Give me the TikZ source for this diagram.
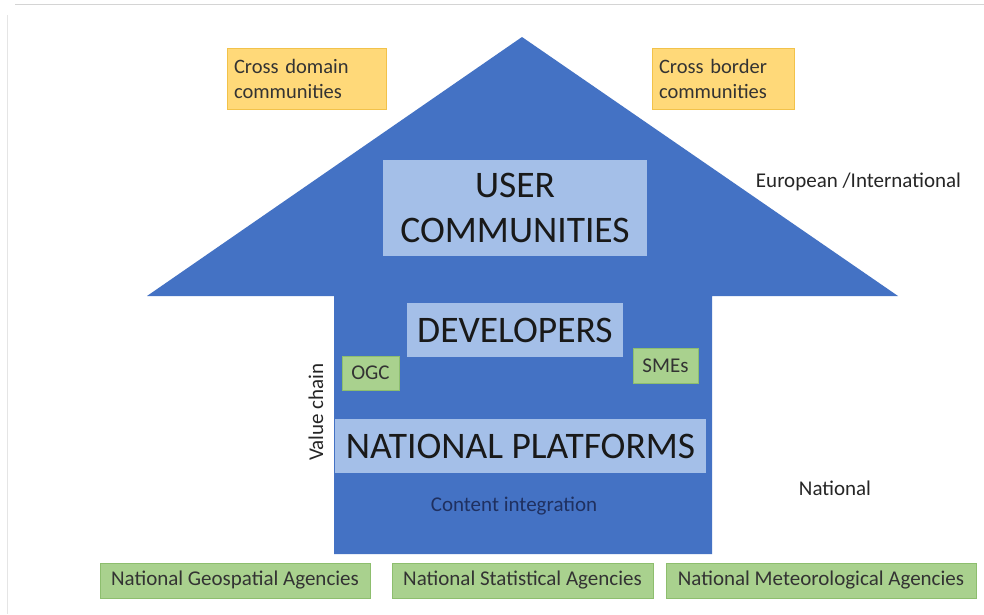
\documentclass[tikz,border=0pt]{standalone}
\usepackage{fontspec}
\setmainfont{Carlito}
\definecolor{arrowblue}{HTML}{4472C4}
\definecolor{paleblue}{HTML}{A4BFE8}
\definecolor{orangefill}{HTML}{FFD979}
\definecolor{orangeedge}{HTML}{F2C24A}
\definecolor{greenfill}{HTML}{A9D18E}
\definecolor{greenedge}{HTML}{8DBE6E}
\definecolor{navytext}{HTML}{1F3060}
\definecolor{edgegray}{HTML}{D4D4D4}
\begin{document}
\begin{tikzpicture}[x=1pt,y=-1pt,
  labelbox/.style={fill=paleblue,draw=none,inner sep=0pt,text=black!90},
  orangebox/.style={fill=orangefill,draw=orangeedge,line width=1pt,inner sep=0pt,align=left,text=black!80,font=\fontsize{20.5}{25}\selectfont},
  greenbox/.style={fill=greenfill,draw=greenedge,line width=1pt,inner sep=0pt,text=black!80,font=\fontsize{21}{24}\selectfont},
  plaintext/.style={inner sep=0pt,text=black!85,font=\fontsize{21}{24}\selectfont}]
\useasboundingbox (0,0) rectangle (984,614);
\fill[white] (0,0) rectangle (984,614);
% frame lines along the top and left edges
\draw[edgegray,line width=1pt] (15,4) -- (984,4);
\draw[edgegray!60,line width=1pt] (7,15) -- (7,614);
% the big upward arrow
\fill[arrowblue] (522,37) -- (898,296) -- (712,296) -- (712,554)
  -- (334,554) -- (334,296) -- (147,296) -- cycle;
% layers inside the arrow
\node[labelbox,minimum width=264pt,minimum height=96pt,align=center,
  font=\fontsize{37.5}{45}\selectfont] (user) at (515,208) {USER\\COMMUNITIES};
\node[labelbox,minimum width=216pt,minimum height=54pt,
  font=\fontsize{37.5}{42}\selectfont] (dev) at (515,330) {DEVELOPERS};
\node[labelbox,minimum width=371pt,minimum height=54pt,
  font=\fontsize{37.5}{42}\selectfont] (natplat) at (520.5,446) {NATIONAL PLATFORMS};
\node[greenbox,minimum width=57pt,minimum height=34pt] (ogc) at (370.5,373) {OGC};
\node[greenbox,minimum width=65pt,minimum height=35pt] (smes) at (665.5,365.5) {SMEs};
\node[plaintext,text=navytext] (content) at (514,506) {Content integration};
% community boxes above the arrow
\node[orangebox,minimum width=159pt,minimum height=61pt,text width=145pt] (crossdomain) at (306.5,78.5) {Cross domain\\communities};
\node[orangebox,minimum width=142pt,minimum height=61pt,text width=128pt] (crossborder) at (723,78.5) {Cross border\\communities};
% level labels
\node[plaintext] (europe) at (858.5,182) {European /International};
\node[plaintext] (national) at (835,488) {National};
\node[plaintext,rotate=90] (valuechain) at (316,412) {Value chain};
% agencies along the bottom
\node[greenbox,minimum width=270pt,minimum height=35pt] (geo) at (235,580.5) {National Geospatial Agencies};
\node[greenbox,minimum width=261pt,minimum height=35pt] (stat) at (522.5,580.5) {National Statistical Agencies};
\node[greenbox,minimum width=310pt,minimum height=35pt] (met) at (821,580.5) {National Meteorological Agencies};
\end{tikzpicture}
\end{document}
